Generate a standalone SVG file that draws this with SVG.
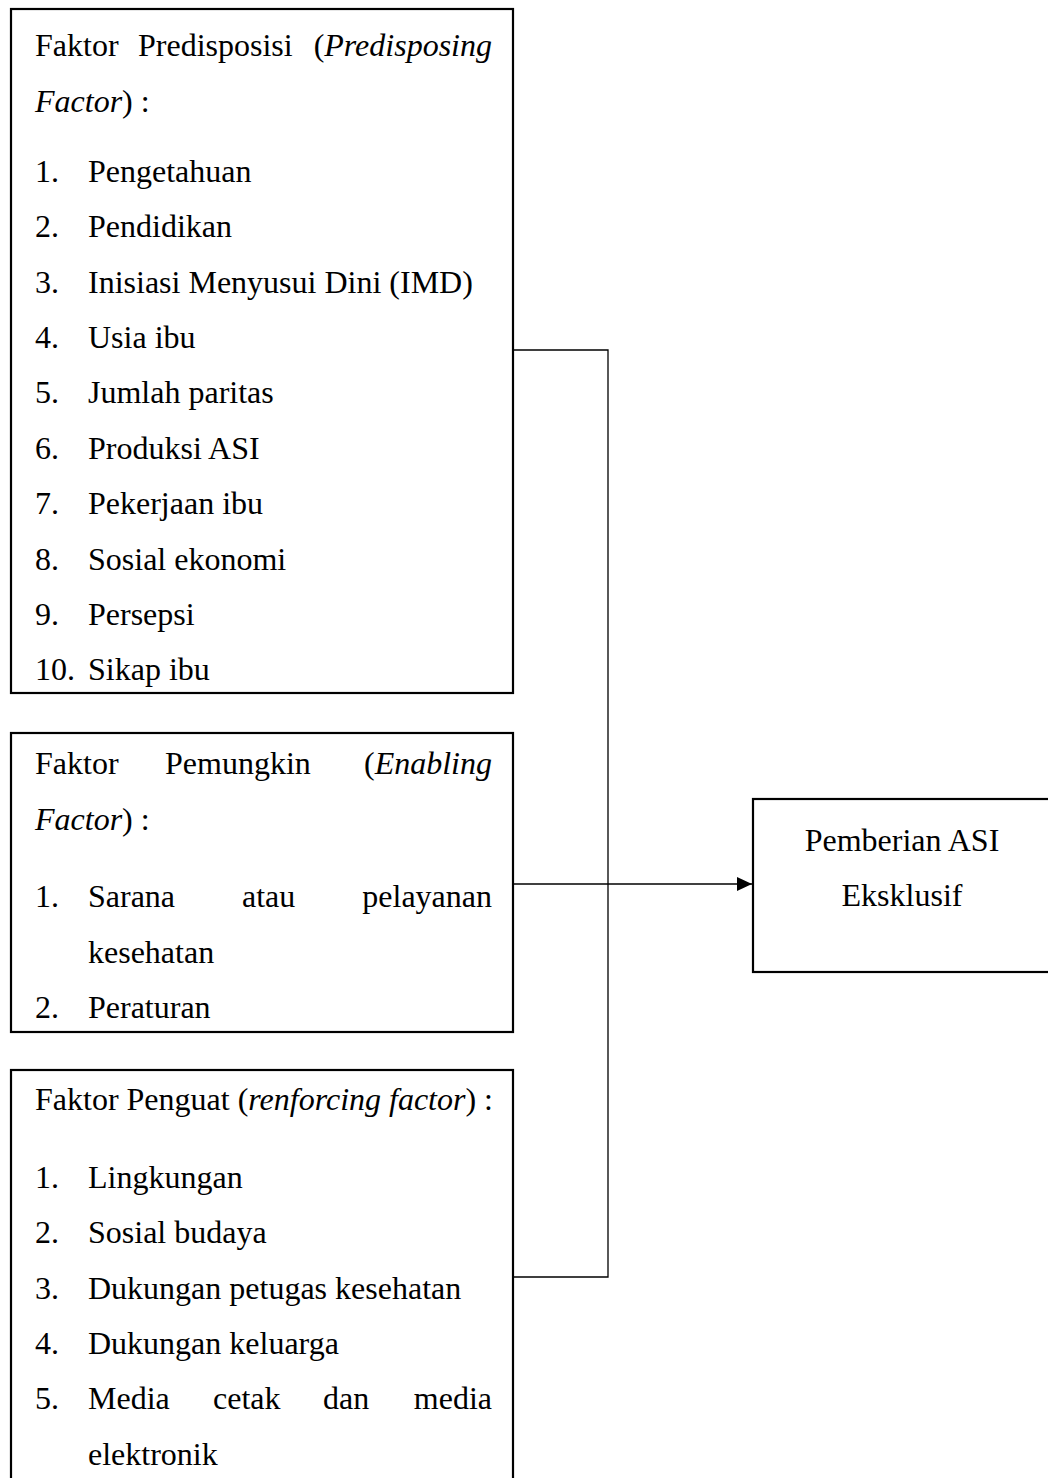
<svg xmlns="http://www.w3.org/2000/svg" width="1048" height="1478" viewBox="0 0 1048 1478">
<style>
text{font-family:"Liberation Serif","Times New Roman",serif;font-size:32px;fill:#000}
.i{font-style:italic}
.e{text-anchor:end}
.m{text-anchor:middle}
.box{fill:#fff;stroke:#000;stroke-width:2.2}
.con{fill:none;stroke:#000;stroke-width:1.3}
</style>
<defs>
<marker id="arr" markerWidth="15" markerHeight="14" refX="15" refY="7" orient="auto" markerUnits="userSpaceOnUse">
<path d="M0,0 L15,7 L0,14 Z" fill="#000"/>
</marker>
</defs>
<rect width="1048" height="1478" fill="#fff"/>
<g id="connectors">
<polyline class="con" points="513,350 608,350 608,1277 513,1277"/>
<line class="con" x1="513" y1="884" x2="608" y2="884"/>
<line class="con" x1="608" y1="884" x2="752" y2="884" marker-end="url(#arr)"/>
</g>
<g id="predisposing">
<rect class="box" x="11" y="9" width="502" height="684"/>
<text x="35" y="56">Faktor</text>
<text x="138" y="56">Predisposisi</text>
<text x="492" y="56" class="e">(<tspan class="i">Predisposing</tspan></text>
<text x="35" y="112"><tspan class="i">Factor</tspan>) :</text>
<text x="35" y="182">1.</text><text x="88" y="182">Pengetahuan</text>
<text x="35" y="237">2.</text><text x="88" y="237">Pendidikan</text>
<text x="35" y="293">3.</text><text x="88" y="293">Inisiasi Menyusui Dini (IMD)</text>
<text x="35" y="348">4.</text><text x="88" y="348">Usia ibu</text>
<text x="35" y="403">5.</text><text x="88" y="403">Jumlah paritas</text>
<text x="35" y="459">6.</text><text x="88" y="459">Produksi ASI</text>
<text x="35" y="514">7.</text><text x="88" y="514">Pekerjaan ibu</text>
<text x="35" y="570">8.</text><text x="88" y="570">Sosial ekonomi</text>
<text x="35" y="625">9.</text><text x="88" y="625">Persepsi</text>
<text x="35" y="680">10.</text><text x="88" y="680">Sikap ibu</text>
</g>
<g id="enabling">
<rect class="box" x="11" y="733" width="502" height="299"/>
<text x="35" y="774">Faktor</text>
<text x="165" y="774">Pemungkin</text>
<text x="492" y="774" class="e">(<tspan class="i">Enabling</tspan></text>
<text x="35" y="830"><tspan class="i">Factor</tspan>) :</text>
<text x="35" y="907">1.</text><text x="88" y="907">Sarana</text>
<text x="242" y="907">atau</text>
<text x="492" y="907" class="e">pelayanan</text>
<text x="88" y="963">kesehatan</text>
<text x="35" y="1018">2.</text><text x="88" y="1018">Peraturan</text>
</g>
<g id="reinforcing">
<rect class="box" x="11" y="1070" width="502" height="430"/>
<text x="35" y="1110">Faktor Penguat (<tspan class="i">renforcing factor</tspan>) :</text>
<text x="35" y="1188">1.</text><text x="88" y="1188">Lingkungan</text>
<text x="35" y="1243">2.</text><text x="88" y="1243">Sosial budaya</text>
<text x="35" y="1299">3.</text><text x="88" y="1299">Dukungan petugas kesehatan</text>
<text x="35" y="1354">4.</text><text x="88" y="1354">Dukungan keluarga</text>
<text x="35" y="1409">5.</text><text x="88" y="1409">Media</text>
<text x="213" y="1409">cetak</text>
<text x="323" y="1409">dan</text>
<text x="492" y="1409" class="e">media</text>
<text x="88" y="1465">elektronik</text>
</g>
<g id="outcome">
<rect class="box" x="753" y="799" width="310" height="173"/>
<text x="902" y="851" class="m">Pemberian ASI</text>
<text x="902" y="906" class="m">Eksklusif</text>
</g>
</svg>
